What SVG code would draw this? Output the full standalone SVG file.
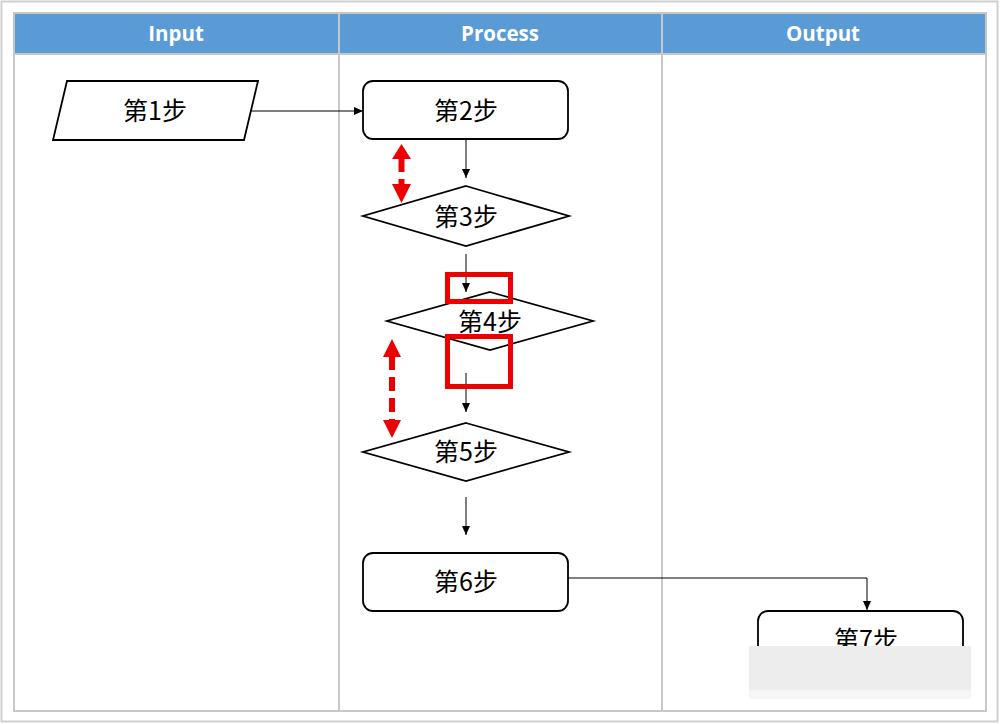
<svg xmlns="http://www.w3.org/2000/svg" width="1000" height="724" viewBox="0 0 1000 724">
<defs>
<style>
.frame{fill:none;stroke:#c8c8c8;stroke-width:2}
.hdr{fill:#5b9bd5}
.htxt{font-family:"Open Sans","Liberation Sans",sans-serif;font-weight:bold;font-size:20.5px;fill:#fff;text-anchor:middle}
.node{fill:#fff;stroke:#000;stroke-width:1.8}
.ntxt{font-family:"Noto Sans CJK SC","Liberation Sans",sans-serif;font-size:25px;fill:#000;text-anchor:middle;dominant-baseline:central}
.conn{fill:none;stroke:#000;stroke-width:1}
.red{fill:none;stroke:#ee0000;stroke-width:5}
.reddash{fill:none;stroke:#ee0000;stroke-width:6;stroke-dasharray:14 7}
.redhead{fill:#ee0000}
</style>
<marker id="ah" markerWidth="10" markerHeight="10" refX="9" refY="5" orient="auto" markerUnits="userSpaceOnUse">
<path d="M0,1 L9,5 L0,9 Z" fill="#000"/>
</marker>
</defs>
<rect x="0" y="0" width="1000" height="724" fill="#fff"/>
<rect x="1.5" y="1.5" width="996" height="720" fill="none" stroke="#cfcfcf" stroke-width="2"/>
<g id="table">
<rect class="hdr" x="14" y="13" width="972" height="41"/>
<rect class="frame" x="14" y="13" width="972" height="698"/>
<line class="frame" x1="14" y1="54" x2="986" y2="54" stroke="#b0c4de"/>
<line class="frame" x1="339" y1="13" x2="339" y2="711"/>
<line class="frame" x1="662" y1="13" x2="662" y2="711"/>
<text class="htxt" x="176" y="41">Input</text>
<text class="htxt" x="500" y="41">Process</text>
<text class="htxt" x="823" y="41">Output</text>
</g>
<g id="connectors">
<line class="conn" x1="251" y1="111" x2="363" y2="111" marker-end="url(#ah)"/>
<line class="conn" x1="466" y1="139" x2="466" y2="178" marker-end="url(#ah)"/>
<line class="conn" x1="466" y1="254" x2="466" y2="292" marker-end="url(#ah)"/>
<line class="conn" x1="466" y1="373" x2="466" y2="412" marker-end="url(#ah)"/>
<line class="conn" x1="466" y1="497" x2="466" y2="535" marker-end="url(#ah)"/>
<polyline class="conn" points="568,578 867,578 867,610" marker-end="url(#ah)"/>
</g>
<g id="n1">
<polygon class="node" points="67,81 258,81 244,140 53,140"/>
<text class="ntxt" x="155" y="109">第1步</text>
</g>
<g id="n2">
<rect class="node" x="363" y="81" width="205" height="58" rx="10"/>
<text class="ntxt" x="466" y="109">第2步</text>
</g>
<g id="n3">
<polygon class="node" points="466,186 569,216 466,246 363,216"/>
<text class="ntxt" x="466" y="215">第3步</text>
</g>
<g id="n4">
<polygon class="node" points="490,292 593,321 490,350 387,321"/>
<text class="ntxt" x="490" y="320">第4步</text>
</g>
<g id="n5">
<polygon class="node" points="466,423 569,452 466,481 363,452"/>
<text class="ntxt" x="466" y="450">第5步</text>
</g>
<g id="n6">
<rect class="node" x="363" y="553" width="205" height="58" rx="10"/>
<text class="ntxt" x="466" y="580">第6步</text>
</g>
<g id="n7">
<rect class="node" x="758" y="611" width="205" height="58" rx="10"/>
<text class="ntxt" x="866" y="638">第7步</text>
</g>
<g id="overlay">
<rect x="749" y="646" width="222" height="44" fill="#ededed"/>
<rect x="749" y="690" width="222" height="9" fill="#f6f6f6"/>
<rect class="red" x="447.5" y="274.5" width="63" height="27"/>
<rect class="red" x="447.5" y="336.5" width="63" height="50"/>
<line class="reddash" x1="401.5" y1="158" x2="401.5" y2="184"/>
<polygon class="redhead" points="401.5,144 411,159 392,159"/>
<polygon class="redhead" points="401.5,203 411,184 392,184"/>
<line class="reddash" x1="392" y1="356" x2="392" y2="420"/>
<polygon class="redhead" points="392,339 401,357 383,357"/>
<polygon class="redhead" points="392,438 401,420 383,420"/>
</g>
</svg>
